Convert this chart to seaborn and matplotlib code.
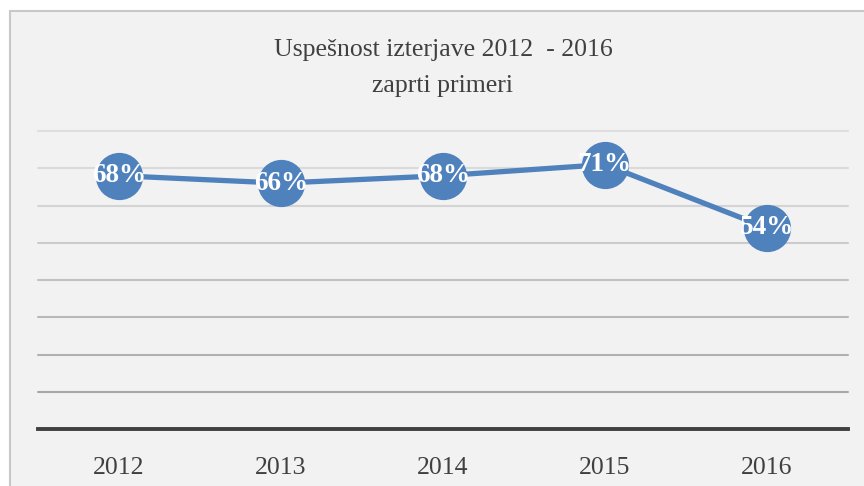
import matplotlib
matplotlib.use("Agg")
import matplotlib.pyplot as plt
import seaborn as sns
import pandas as pd
from matplotlib.patches import Rectangle

years = ["2012", "2013", "2014", "2015", "2016"]
success = [0.68, 0.66, 0.68, 0.71, 0.54]
labels = ["68%", "66%", "68%", "71%", "54%"]
grid_levels = [0.1, 0.2, 0.3, 0.4, 0.5, 0.6, 0.7, 0.8]
title_lines = ["Uspešnost izterjave 2012  - 2016", "zaprti primeri"]

sns.set_theme(style="white")
plt.rcParams["font.family"] = ["Liberation Serif", "DejaVu Serif"]

df = pd.DataFrame({"year": years, "value": success})

fig = plt.figure(figsize=(8.64, 4.86), dpi=100, facecolor="white")
# chart area box
fig.patches.append(Rectangle((10 / 864, -0.05), 1.0, 1 - 11 / 486 + 0.05,
                             transform=fig.transFigure, facecolor="#f2f2f2",
                             edgecolor="#c8c8c8", linewidth=1.5, zorder=-5))

ax = fig.add_axes([38 / 864, 1 - 429 / 486, (848 - 38) / 864, (429 - 131) / 486])
ax.set_facecolor("#f2f2f2")
ax.patch.set_alpha(0)

grid_colors = ["#a8a8a8", "#b0b0b0", "#b9b9b9", "#c2c2c2", "#cbcbcb", "#d4d4d4", "#dadada", "#dedede"]
for lvl, c in zip(grid_levels, grid_colors):
    ax.axhline(lvl, color=c, linewidth=1.5, zorder=1, clip_on=False)

sns.lineplot(data=df, x="year", y="value", ax=ax, color="#4f81bd", linewidth=3.8,
             marker="o", markersize=34, markeredgewidth=0, sort=False, zorder=3)

for i, (v, lab) in enumerate(zip(success, labels)):
    ax.text(i, v, lab, ha="center", va="center", color="white", fontsize=19.5,
            fontweight="bold", zorder=4)

ax.set_xlim(-0.5, 4.5)
ax.set_ylim(0, 0.8)
ax.set_yticks([])
ax.set_xlabel("")
ax.set_ylabel("")
for s in ["top", "right", "left"]:
    ax.spines[s].set_visible(False)
ax.spines["bottom"].set_color("#404040")
ax.spines["bottom"].set_linewidth(2.8)
ax.tick_params(axis="x", length=0, labelsize=18.5, labelcolor="#404040", pad=20)

cx = 0.5 * (38 + 848) / 864
fig.text(cx, 1 - 50 / 486, title_lines[0], ha="center", va="center",
         fontsize=18.5, color="#404040")
fig.text(cx, 1 - 86 / 486, title_lines[1], ha="center", va="center",
         fontsize=18.5, color="#404040")

fig.savefig("out.png", dpi=100, facecolor="white")
